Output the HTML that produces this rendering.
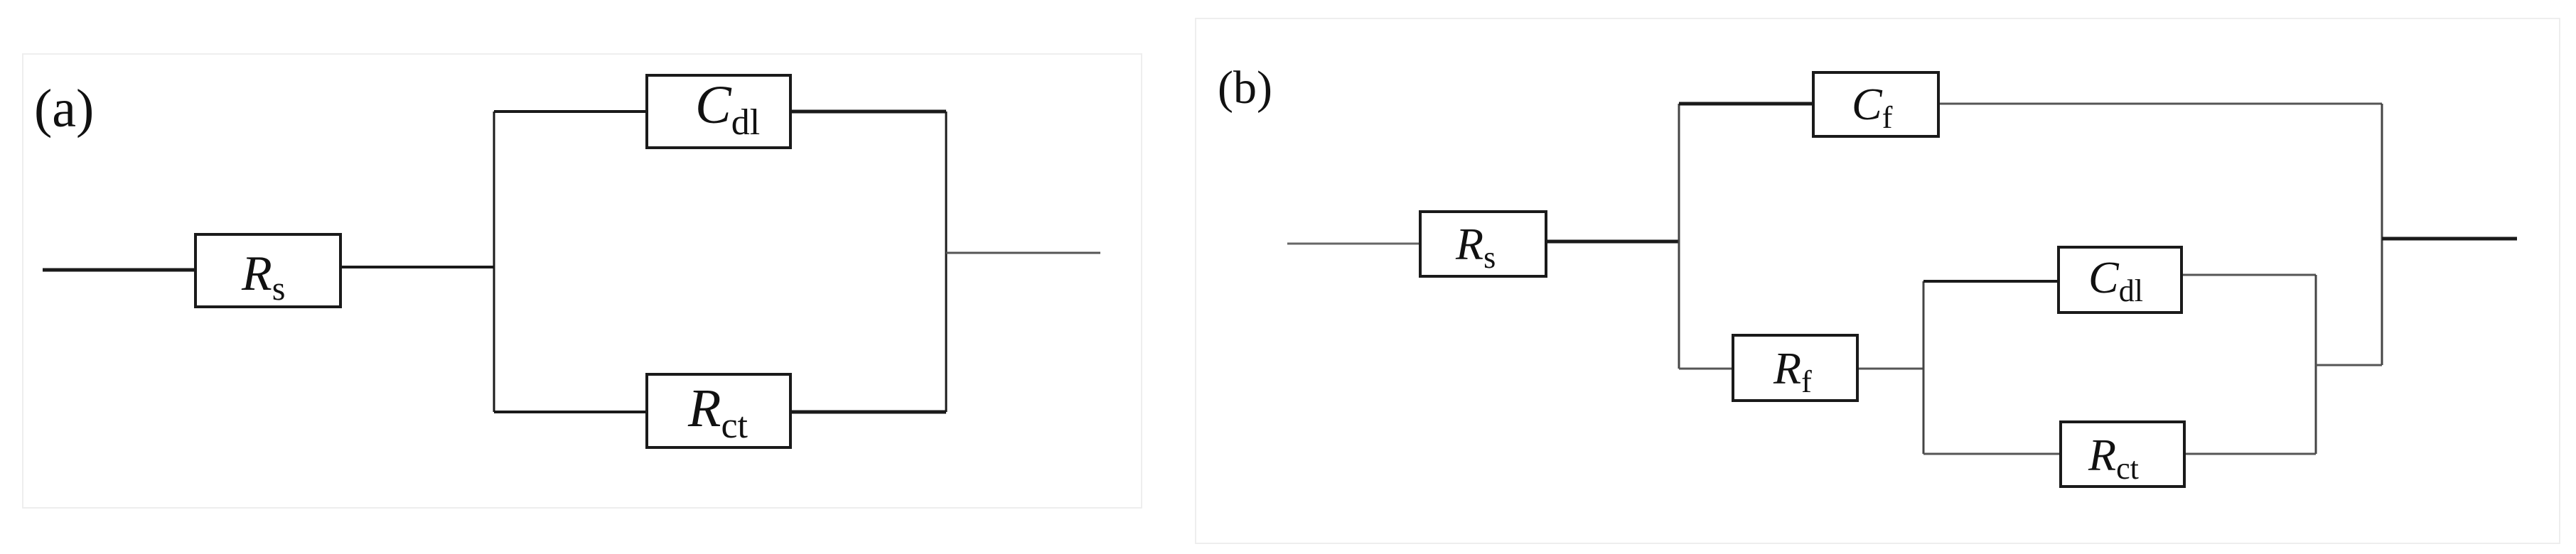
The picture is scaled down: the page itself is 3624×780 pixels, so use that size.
<!DOCTYPE html>
<html><head><style>
html,body{margin:0;padding:0;background:#fff;}
svg{display:block;}
text{font-family:"Liberation Serif",serif;fill:#111;}
</style></head><body>
<svg width="3624" height="780" viewBox="0 0 3624 780" xmlns="http://www.w3.org/2000/svg">
<rect x="32" y="76" width="1574" height="639" fill="none" stroke="#eeeeee" stroke-width="2"/>
<rect x="1682" y="26" width="1919" height="739" fill="none" stroke="#eeeeee" stroke-width="2"/>
<g stroke="#1a1a1a" stroke-width="4" fill="none">
<!-- panel a -->
<line x1="60" y1="380" x2="275" y2="380" stroke-width="5"/>
<line x1="479" y1="376" x2="695" y2="376"/>
<line x1="695" y1="157" x2="695" y2="580" stroke-width="3"/>
<line x1="695" y1="157" x2="912" y2="157"/>
<line x1="1114" y1="157" x2="1331" y2="157" stroke-width="5"/>
<line x1="695" y1="580" x2="912" y2="580"/>
<line x1="1114" y1="580" x2="1331" y2="580" stroke-width="5"/>
<line x1="1331" y1="157" x2="1331" y2="580" stroke-width="3"/>
<line x1="1331" y1="356" x2="1548" y2="356" stroke="#555" stroke-width="3"/>
<rect x="275" y="330" width="204" height="102" fill="#fff"/>
<rect x="910" y="106" width="202" height="102" fill="#fff"/>
<rect x="910" y="527" width="202" height="103" fill="#fff"/>
<!-- panel b -->
<line x1="1811" y1="343" x2="1998" y2="343" stroke="#666" stroke-width="3"/>
<line x1="2175" y1="340" x2="2362" y2="340" stroke-width="5"/>
<line x1="2362" y1="146" x2="2362" y2="519" stroke="#444" stroke-width="3"/>
<line x1="2362" y1="146" x2="2551" y2="146" stroke-width="5"/>
<line x1="2727" y1="146" x2="3351" y2="146" stroke="#555" stroke-width="3"/>
<line x1="3351" y1="146" x2="3351" y2="514" stroke="#444" stroke-width="3"/>
<line x1="3351" y1="336" x2="3541" y2="336" stroke-width="5"/>
<line x1="2362" y1="519" x2="2438" y2="519" stroke="#555" stroke-width="3"/>
<line x1="2613" y1="519" x2="2706" y2="519" stroke="#555" stroke-width="3"/>
<line x1="2706" y1="396" x2="2706" y2="639" stroke="#444" stroke-width="3"/>
<line x1="2706" y1="396" x2="2896" y2="396"/>
<line x1="3069" y1="387" x2="3258" y2="387" stroke="#555" stroke-width="3"/>
<line x1="3258" y1="387" x2="3258" y2="639" stroke="#444" stroke-width="3"/>
<line x1="3258" y1="514" x2="3351" y2="514" stroke="#555" stroke-width="3"/>
<line x1="2706" y1="639" x2="2899" y2="639" stroke="#555" stroke-width="3"/>
<line x1="3073" y1="639" x2="3258" y2="639" stroke="#555" stroke-width="3"/>
<rect x="1998" y="298" width="177" height="91" fill="#fff"/>
<rect x="2551" y="102" width="176" height="90" fill="#fff"/>
<rect x="2438" y="472" width="175" height="92" fill="#fff"/>
<rect x="2896" y="348" width="173" height="92" fill="#fff"/>
<rect x="2899" y="594" width="174" height="91" fill="#fff"/>
</g>
<text x="48" y="178" font-size="76">(a)</text>
<text x="1713" y="145" font-size="66">(b)</text>
<g font-style="italic">
<text x="340" y="408" font-size="70">R<tspan font-style="normal" font-size="48" dy="14">s</tspan></text>
<text x="978" y="173" font-size="76">C<tspan font-style="normal" font-size="52" dy="16">dl</tspan></text>
<text x="968" y="600" font-size="76">R<tspan font-style="normal" font-size="52" dy="16">ct</tspan></text>
<text x="2048" y="365" font-size="64">R<tspan font-style="normal" font-size="44" dy="12">s</tspan></text>
<text x="2605" y="168" font-size="64">C<tspan font-style="normal" font-size="44" dy="12">f</tspan></text>
<text x="2495" y="540" font-size="64">R<tspan font-style="normal" font-size="44" dy="12">f</tspan></text>
<text x="2938" y="412" font-size="64">C<tspan font-style="normal" font-size="44" dy="12">dl</tspan></text>
<text x="2938" y="662" font-size="64">R<tspan font-style="normal" font-size="44" dy="12">ct</tspan></text>
</g>
</svg>
</body></html>
